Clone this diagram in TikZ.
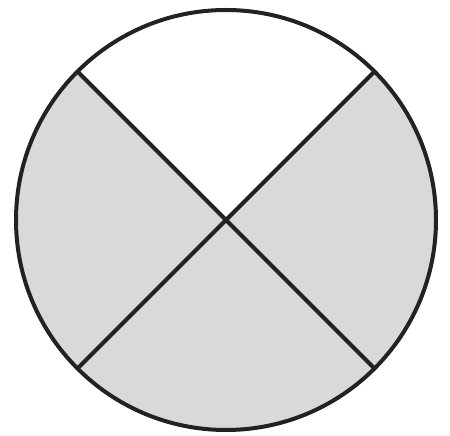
\documentclass[tikz,border=0pt]{standalone}
\definecolor{sector}{HTML}{D9D9D9}
\definecolor{ink}{HTML}{222222}
\begin{document}
\begin{tikzpicture}[x=1pt,y=1pt,
  sectorfill/.style={fill=sector},
  outline/.style={draw=ink,line width=4pt}]
\useasboundingbox (0,0) rectangle (450,436);
\coordinate (c) at (226,216);
\fill[sectorfill] (c) -- ++(45:210) arc[start angle=45,end angle=-225,radius=210] -- cycle;
\draw[outline] (c) circle[radius=210];
\path (c) ++(45:210) coordinate (ne);
\path (c) ++(225:210) coordinate (sw);
\path (c) ++(135:210) coordinate (nw);
\path (c) ++(-45:210) coordinate (se);
\draw[outline] (ne) -- (sw);
\draw[outline] (nw) -- (se);
\end{tikzpicture}
\end{document}
